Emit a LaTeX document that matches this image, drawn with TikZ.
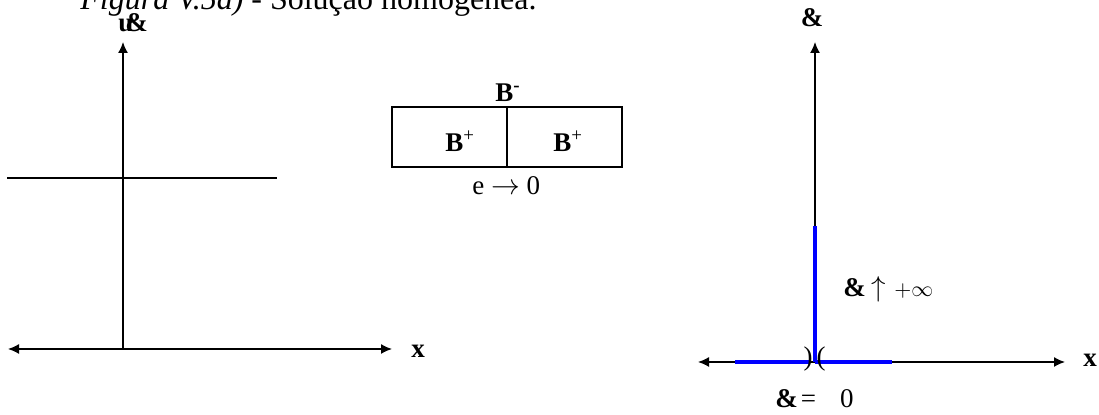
\documentclass[tikz,border=0pt]{standalone}
\usepackage{fontspec}
\setmainfont{Liberation Serif}
\usetikzlibrary{arrows.meta}

\begin{document}
\begin{tikzpicture}[x=0.5pt,y=-0.5pt,
	every node/.style={inner sep=0pt,font=\fontsize{13.5}{16}\selectfont},
	axis/.style={line width=0.7pt,-{Latex[length=5.5pt,width=5pt]}},
	axisb/.style={line width=0.7pt,{Latex[length=5.5pt,width=5pt]}-{Latex[length=5.5pt,width=5pt]}},
	level/.style={line width=1pt},
	cell/.style={line width=1pt},
	ramo/.style={blue,line width=2.3pt}]
	\useasboundingbox (0,0) rectangle (1099,415);

	% titulo (cortado em cima)
	\node[anchor=base west,font=\fontsize{16}{19}\selectfont] (tit) at (80,10) {\textit{Figura V.5a)} - Solução homogênea.};

	% grafico da esquerda
	\coordinate (O1) at (123,349);
	\coordinate (Y1) at (123,42);
	\coordinate (XL1) at (8,349);
	\coordinate (XR1) at (392,349);
	\coordinate (CL) at (7,178);
	\coordinate (CR) at (277,178);
	\draw[axisb] (XL1) -- (XR1);
	\draw[axis] (O1) -- (Y1);
	\draw[level] (CL) -- (CR);
	\node[anchor=base west] (u1) at (118,32) {\textbf{u}\kern-4pt\textbf{\&}};
	\node (x1) at (418,351) {\textbf{x}};

	% caixa
	\coordinate (BA) at (392,107);
	\coordinate (BB) at (622,167);
	\coordinate (BM1) at (507,107);
	\coordinate (BM2) at (507,167);
	\draw[cell] (BA) rectangle (BB);
	\draw[cell] (BM1) -- (BM2);
	\node[anchor=base] (bm) at (508,102) {\textbf{B\textsuperscript{-}}};
	\node[anchor=base west] (bp1) at (445,152) {\textbf{B}\textsuperscript{+}};
	\node[anchor=base west] (bp2) at (553,152) {\textbf{B}\textsuperscript{+}};
	\node[anchor=base west] (e0) at (472,195) {e $\rightarrow$ 0};

	% grafico da direita
	\coordinate (O2) at (815,362);
	\coordinate (Y2) at (815,42);
	\coordinate (XL2) at (698,362);
	\coordinate (XR2) at (1065,362);
	\coordinate (V2) at (815,226);
	\coordinate (H1) at (735,362);
	\coordinate (H2) at (809,362);
	\coordinate (H3) at (892,362);
	\draw[axisb] (XL2) -- (XR2);
	\draw[axis] (O2) -- (Y2);
	\draw[ramo] (O2) -- (V2);
	\draw[ramo] (H1) -- (H2);
	\draw[ramo] (O2) -- (H3);
	\node (pl) at (808,359) {)};
	\node (pr) at (821,359) {(};
	\node[anchor=base] (u2) at (812,27) {\textbf{\&}};
	\node (x2) at (1090,360) {\textbf{x}};
	\node[anchor=base west] (inf) at (843,297) {\textbf{\&}\hspace{3pt}$\uparrow$\hspace{4pt}{\fontsize{11}{13}\selectfont$+\infty$}};
	\node[anchor=base west] (zero) at (775,408) {\textbf{\&}\hspace{1.5pt}=\hspace{12pt}0};
\end{tikzpicture}
\end{document}
